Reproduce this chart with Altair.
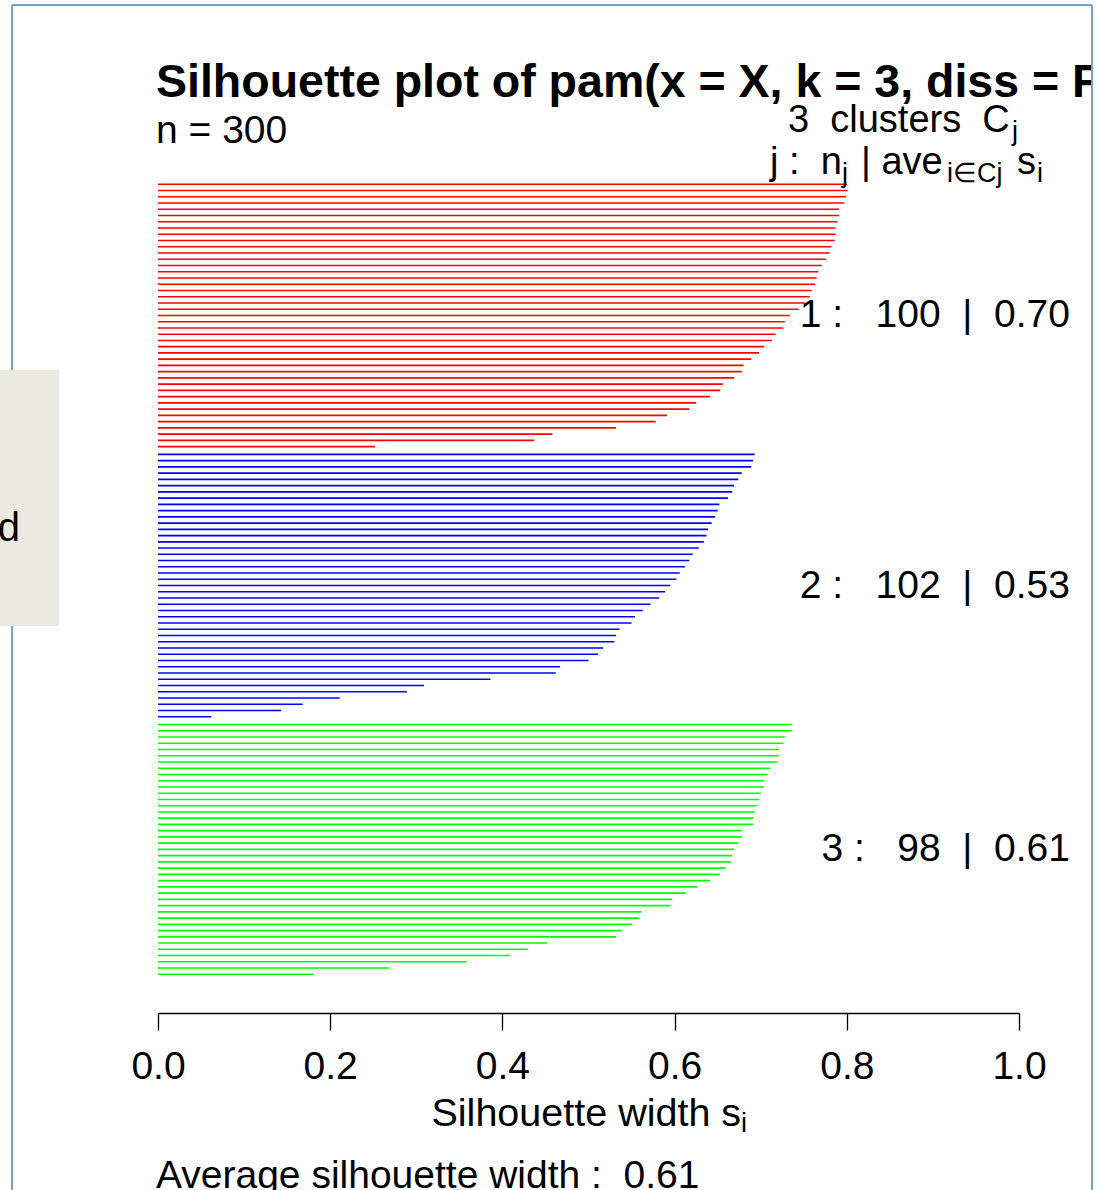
import altair as alt
import pandas as pd

# Silhouette widths s(i), sorted in decreasing order inside each cluster
cluster1_widths = [0.800, 0.801, 0.799, 0.797, 0.791, 0.791, 0.789, 0.787, 0.787, 0.786,
                   0.782, 0.780, 0.776, 0.771, 0.767, 0.765, 0.763, 0.759, 0.757, 0.752,
                   0.744, 0.734, 0.728, 0.726, 0.717, 0.713, 0.704, 0.698, 0.689, 0.680,
                   0.678, 0.669, 0.656, 0.653, 0.641, 0.625, 0.617, 0.591, 0.578, 0.532,
                   0.458, 0.437, 0.252]
cluster2_widths = [0.693, 0.691, 0.689, 0.678, 0.674, 0.669, 0.667, 0.662, 0.652, 0.650,
                   0.647, 0.643, 0.639, 0.637, 0.634, 0.628, 0.621, 0.617, 0.612, 0.606,
                   0.602, 0.595, 0.589, 0.582, 0.572, 0.563, 0.554, 0.550, 0.536, 0.532,
                   0.530, 0.517, 0.511, 0.500, 0.467, 0.462, 0.386, 0.309, 0.289, 0.211,
                   0.168, 0.143, 0.062]
cluster3_widths = [0.736, 0.736, 0.728, 0.726, 0.721, 0.721, 0.719, 0.711, 0.708, 0.704,
                   0.704, 0.700, 0.698, 0.696, 0.693, 0.691, 0.691, 0.678, 0.678, 0.674,
                   0.669, 0.667, 0.665, 0.659, 0.652, 0.641, 0.626, 0.613, 0.597, 0.595,
                   0.561, 0.559, 0.550, 0.539, 0.532, 0.452, 0.429, 0.409, 0.358, 0.269,
                   0.181]

cluster_names = ["1", "2", "3"]
cluster_colors = ["#FF0000", "#0000FF", "#00FF00"]
cluster_sizes = [100, 102, 98]
cluster_means = [0.70, 0.53, 0.61]
overall_mean = 0.61
n_total = 300
x_ticks = [0.0, 0.2, 0.4, 0.6, 0.8, 1.0]

FONT = "Liberation Sans"
NB = "\u00a0"
W, H = 1101, 1190
CLUSTER_GAP = 0.25
FRAME = "#7AA0D8"

# one row per silhouette bar, clusters stacked top to bottom
records, label_records = [], []
pos = 0.0
for name, widths, size, mean in zip(cluster_names,
                                    [cluster1_widths, cluster2_widths, cluster3_widths],
                                    cluster_sizes, cluster_means):
    first = pos
    for w in widths:
        records.append({"cluster": name, "row": pos, "start": 0.0, "width": w})
        pos += 1
    label_records.append({
        "cluster": name,
        "mid": (first + pos - 1) / 2,
        "label": f"{name} :{NB * 3}{size}{NB * 2}|{NB * 2}{mean:.2f}",
    })
    pos += CLUSTER_GAP
bars_df = pd.DataFrame(records)
labels_df = pd.DataFrame(label_records)
last_row = bars_df["row"].max()

x_scale = alt.Scale(domain=[0, 1], range=[158, 1019], nice=False, zero=False)
y_scale = alt.Scale(domain=[0, last_row], range=[184.3, 974.3], nice=False, zero=False)

x_axis = alt.Axis(
    values=x_ticks, format=".1f", grid=False, offset=-(H - 1013),
    tickSize=17, tickWidth=1.3, tickColor="black",
    domainColor="black", domainWidth=1.3,
    labelFont=FONT, labelFontSize=39, labelColor="black", labelPadding=17,
    labelFlush=False, labelOverlap=False,
    title="Silhouette width s", titleFont=FONT, titleFontSize=39.5,
    titleFontWeight="normal", titleColor="black", titleAlign="left",
    titleX=431, titleY=112, titleBaseline="alphabetic",
)

bars = alt.Chart(bars_df).mark_rule(strokeWidth=1.6).encode(
    x=alt.X("start:Q", scale=x_scale, axis=x_axis),
    x2="width:Q",
    y=alt.Y("row:Q", scale=y_scale, axis=None),
    color=alt.Color("cluster:N",
                    scale=alt.Scale(domain=cluster_names, range=cluster_colors),
                    legend=None),
)

cluster_labels = alt.Chart(labels_df).mark_text(
    align="right", baseline="middle", font=FONT, fontSize=39, color="black"
).encode(
    x=alt.value(1070),
    y=alt.Y("mid:Q", scale=y_scale, axis=None),
    text="label:N",
)

one = pd.DataFrame({"k": [0]})


def text_piece(txt, x, y, size, weight="normal", align="left"):
    return alt.Chart(one).mark_text(
        align=align, baseline="alphabetic", font=FONT, fontSize=size,
        fontWeight=weight, color="black",
    ).encode(x=alt.value(x), y=alt.value(y), text=alt.value(txt))


def vline(x, y1, y2, color, width):
    return alt.Chart(one).mark_rule(color=color, strokeWidth=width).encode(
        x=alt.value(x), y=alt.value(y1), y2=alt.value(y2))


def hline(x1, x2, y, color, width):
    return alt.Chart(one).mark_rule(color=color, strokeWidth=width).encode(
        x=alt.value(x1), x2=alt.value(x2), y=alt.value(y))


title = text_piece("Silhouette plot of pam(x = X, k = 3, diss = FALSE)", 156, 97, 46.5, "bold")
subtitle = text_piece(f"n = {n_total}", 156, 143, 39)

# legend header: "3 clusters C_j" and "j : n_j | ave_{i in Cj} s_i"
header = [
    text_piece(f"3{NB * 2}clusters{NB * 2}C", 788, 132, 38),
    text_piece("j", 1012, 140, 27),
    text_piece(f"j :{NB * 2}n", 770, 174, 38),
    text_piece("j", 842, 182, 27),
    text_piece(f"|{NB}ave", 861, 174, 38),
    text_piece("i\u2208Cj", 947, 182, 27),
    text_piece("s", 1017, 174, 38),
    text_piece("i", 1037, 182, 27),
]

axis_sub = text_piece("i", 741, 1132, 27)
footer = text_piece(f"Average silhouette width :{NB * 2}{overall_mean:.2f}", 156, 1188, 39)

# window frame around the graphics device
right_mask = alt.Chart(one).mark_rect(color="white").encode(
    x=alt.value(1093), x2=alt.value(W), y=alt.value(0), y2=alt.value(H))
frame = [
    hline(12, 1092, 5, FRAME, 2),
    vline(12, 5, H, FRAME, 2),
    vline(1092, 5, H, FRAME, 2),
]

# side panel partly covering the left edge
side_box = alt.Chart(one).mark_rect(color="#ECE9E0").encode(
    x=alt.value(0), x2=alt.value(59), y=alt.value(370), y2=alt.value(626))
side_text = text_piece("d", 20, 541, 40, align="right")

chart = alt.layer(
    bars, cluster_labels, title, subtitle, *header, axis_sub, footer,
    right_mask, *frame, side_box, side_text,
).properties(
    width=W, height=H, padding=0,
    autosize=alt.AutoSizeParams(type="none"),
    background="white",
).configure_view(strokeWidth=0)

chart.save("out.html", embed_options={"renderer": "svg", "actions": False})
